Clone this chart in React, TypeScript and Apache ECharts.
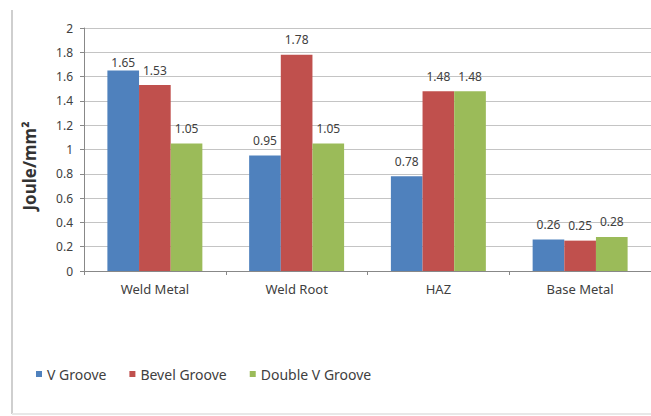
import React, { useEffect, useRef } from "react";
import * as echarts from "echarts";

const categories = ["Weld Metal", "Weld Root", "HAZ", "Base Metal"];
const seriesNames = ["V Groove", "Bevel Groove", "Double V Groove"];
const vGroove = [1.65, 0.95, 0.78, 0.26];
const bevelGroove = [1.53, 1.78, 1.48, 0.25];
const doubleVGroove = [1.05, 1.05, 1.48, 0.28];
const colors = ["#4F81BD", "#C0504D", "#9BBB59"];
const yTitle = "Joule/mm²";

export default function App() {
  const ref = useRef<HTMLDivElement>(null);
  useEffect(() => {
    if (!ref.current) return;
    const chart = echarts.init(ref.current, null, { renderer: "svg" });
    const font = "'Noto Sans', 'Open Sans', sans-serif";
    const mk = (name: string, data: number[], color: string, si: number) => ({
      name,
      type: "bar",
      data: data.map((v, i) =>
        si === 0 && i === 0 ? { value: v, label: { distance: 2 } } : { value: v }
      ),
      barGap: "0%",
      barCategoryGap: "33%",
      itemStyle: { color },
      label: {
        show: true,
        position: "top",
        distance: 9,
        color: "#404040",
        fontSize: 12,
        fontFamily: font,
        formatter: (p: any) => Number(p.value).toFixed(2),
      },
    });
    chart.setOption({
      animation: false,
      backgroundColor: "#ffffff",
      textStyle: { fontFamily: font },
      grid: { left: 84, right: -9, top: 28, bottom: 145, containLabel: false },
      legend: {
        data: seriesNames,
        left: 31,
        top: 362,
        icon: "rect",
        itemWidth: 6,
        itemHeight: 6,
        itemGap: 23,
        textStyle: { color: "#404040", fontSize: 14, fontFamily: font, padding: [0, 0, 0, 0] },
      },
      xAxis: {
        type: "category",
        data: categories,
        axisLine: { show: true, lineStyle: { color: "#888888", width: 1 } },
        axisTick: { show: true, length: 4, lineStyle: { color: "#888888" } },
        axisLabel: { color: "#404040", fontSize: 13, fontFamily: font, margin: 11 },
      },
      yAxis: {
        type: "value",
        min: 0,
        max: 2,
        interval: 0.2,
        axisLine: { show: true, lineStyle: { color: "#888888", width: 1 } },
        axisTick: { show: true, length: 4, lineStyle: { color: "#888888" } },
        axisLabel: {
          color: "#404040",
          fontSize: 12,
          fontFamily: font,
          margin: 11,
          formatter: (v: number) => String(Math.round(v * 10) / 10),
        },
        splitLine: { show: true, lineStyle: { color: "#c4c4c4", width: 1 } },
      },
      graphic: [
        { type: "line", shape: { x1: 12, y1: 10, x2: 12, y2: 414 }, style: { stroke: "#cfcfcf", lineWidth: 2 } },
        { type: "line", shape: { x1: 12, y1: 414, x2: 651, y2: 414 }, style: { stroke: "#e8e8e8", lineWidth: 2 } },
        {
          type: "text",
          x: 29,
          y: 166,
          rotation: Math.PI / 2,
          style: {
            text: yTitle,
            fill: "#333333",
            font: "bold 17px 'Noto Sans', sans-serif",
            align: "center",
            verticalAlign: "middle",
          },
        },
      ],
      series: [
        mk(seriesNames[0], vGroove, colors[0], 0),
        mk(seriesNames[1], bevelGroove, colors[1], 1),
        mk(seriesNames[2], doubleVGroove, colors[2], 2),
      ],
    });
    return () => chart.dispose();
  }, []);
  return (
    <div
      ref={ref}
      style={{ position: "fixed", left: 0, top: 0, width: 651, height: 416, background: "#fff" }}
    />
  );
}
